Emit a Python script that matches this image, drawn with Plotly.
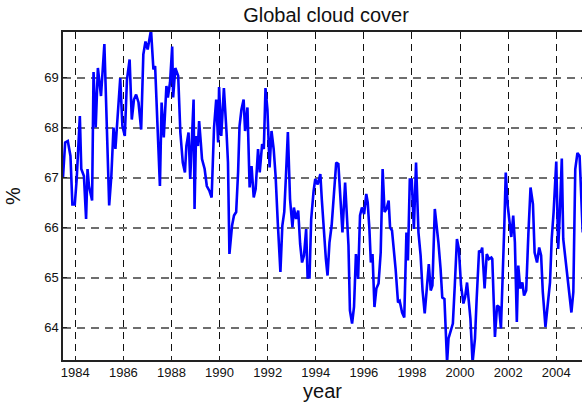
import plotly.graph_objects as go

# Monthly-ish global mean cloud amount (%), decimal year vs value
year = [
    1983.49, 1983.58, 1983.69, 1983.80, 1983.88, 1983.98, 1984.06, 1984.12, 1984.19, 1984.25,
    1984.36, 1984.45, 1984.51, 1984.57, 1984.70, 1984.76, 1984.85, 1984.94, 1985.07, 1985.21,
    1985.30, 1985.41, 1985.50, 1985.59, 1985.67, 1985.78, 1985.87, 1985.96, 1986.06, 1986.15,
    1986.26, 1986.35, 1986.44, 1986.53, 1986.63, 1986.74, 1986.83, 1986.92, 1987.01, 1987.15,
    1987.25, 1987.32, 1987.52, 1987.59, 1987.68, 1987.79, 1987.85, 1987.94, 1988.03, 1988.07,
    1988.16, 1988.28, 1988.37, 1988.47, 1988.56, 1988.62, 1988.71, 1988.78, 1988.84, 1988.92,
    1988.96, 1989.02, 1989.10, 1989.15, 1989.22, 1989.27, 1989.38, 1989.47, 1989.58, 1989.67,
    1989.77, 1989.86, 1989.94, 1989.98, 1990.07, 1990.18, 1990.29, 1990.35, 1990.41, 1990.52,
    1990.60, 1990.69, 1990.77, 1990.83, 1990.91, 1991.00, 1991.06, 1991.16, 1991.25, 1991.33,
    1991.42, 1991.50, 1991.60, 1991.67, 1991.77, 1991.84, 1991.91, 1991.99, 1992.08, 1992.16,
    1992.25, 1992.33, 1992.42, 1992.53, 1992.61, 1992.69, 1992.76, 1992.84, 1992.93, 1993.03,
    1993.09, 1993.18, 1993.27, 1993.35, 1993.43, 1993.51, 1993.60, 1993.66, 1993.74, 1993.81,
    1993.91, 1993.98, 1994.08, 1994.19, 1994.25, 1994.34, 1994.42, 1994.49, 1994.57, 1994.66,
    1994.74, 1994.85, 1994.94, 1995.02, 1995.11, 1995.22, 1995.30, 1995.36, 1995.42, 1995.51,
    1995.59, 1995.67, 1995.76, 1995.84, 1995.92, 1996.01, 1996.10, 1996.16, 1996.23, 1996.29,
    1996.36, 1996.44, 1996.52, 1996.61, 1996.70, 1996.78, 1996.86, 1996.94, 1997.03, 1997.09,
    1997.17, 1997.25, 1997.32, 1997.42, 1997.49, 1997.59, 1997.68, 1997.77, 1997.83, 1997.91,
    1997.99, 1998.08, 1998.17, 1998.27, 1998.36, 1998.44, 1998.53, 1998.61, 1998.70, 1998.78,
    1998.85, 1998.95, 1999.02, 1999.10, 1999.19, 1999.26, 1999.35, 1999.46, 1999.52, 1999.61,
    1999.70, 1999.78, 1999.87, 1999.95, 2000.04, 2000.14, 2000.21, 2000.29, 2000.37, 2000.43,
    2000.52, 2000.62, 2000.69, 2000.79, 2000.86, 2000.92, 2001.02, 2001.11, 2001.20, 2001.30,
    2001.34, 2001.45, 2001.54, 2001.62, 2001.70, 2001.76, 2001.84, 2001.90, 2001.98, 2002.05,
    2002.13, 2002.21, 2002.28, 2002.36, 2002.42, 2002.50, 2002.59, 2002.66, 2002.75, 2002.84,
    2002.93, 2003.03, 2003.10, 2003.20, 2003.29, 2003.37, 2003.44, 2003.55, 2003.65, 2003.74,
    2003.81, 2003.89, 2004.00, 2004.08, 2004.15, 2004.23, 2004.29, 2004.39, 2004.48, 2004.57,
    2004.63, 2004.71, 2004.79, 2004.88, 2004.97, 2005.10,
]

cloud_cover = [
    67.00, 67.70, 67.73, 67.43, 66.46, 66.46, 66.97, 67.70, 68.23, 67.17,
    67.03, 66.17, 67.17, 66.83, 66.54, 69.11, 68.00, 69.19, 68.63, 69.67,
    68.03, 66.44, 67.03, 68.00, 67.57, 68.36, 68.99, 68.03, 67.83, 68.96,
    69.36, 68.16, 68.56, 68.66, 68.50, 67.96, 69.46, 69.72, 69.56, 69.95,
    69.16, 69.23, 66.83, 68.50, 67.80, 68.83, 68.60, 68.90, 69.62, 68.60,
    69.19, 69.03, 67.90, 67.30, 67.10, 67.63, 67.90, 66.97, 67.63, 68.56,
    66.37, 67.83, 67.63, 68.13, 67.70, 67.37, 67.17, 66.83, 66.73, 66.60,
    68.00, 68.56, 67.70, 68.81, 67.83, 68.79, 67.90, 67.30, 65.47, 66.04,
    66.24, 66.31, 67.10, 68.03, 68.36, 68.56, 67.93, 68.40, 66.80, 67.23,
    66.60, 66.77, 67.57, 67.10, 67.67, 67.57, 68.79, 68.36, 67.20, 67.93,
    67.57, 67.03, 66.10, 65.11, 66.04, 66.31, 67.03, 67.91, 66.57, 66.00,
    66.40, 66.17, 66.34, 65.67, 65.30, 65.44, 65.97, 65.00, 65.00, 66.17,
    66.73, 66.97, 66.86, 67.07, 66.57, 65.90, 65.37, 65.04, 65.70, 66.04,
    66.50, 67.30, 67.27, 66.57, 65.90, 66.90, 66.17, 65.64, 64.34, 64.08,
    64.41, 65.47, 64.97, 66.24, 66.40, 66.27, 66.67, 66.50, 65.97, 65.30,
    65.47, 64.41, 64.78, 64.88, 65.50, 67.17, 66.31, 66.37, 66.54, 66.00,
    65.94, 65.57, 65.17, 64.50, 64.53, 64.30, 64.20, 65.90, 65.34, 66.96,
    66.96, 65.97, 67.30, 65.90, 65.44, 64.74, 64.28, 64.74, 65.27, 64.74,
    64.84, 66.37, 66.10, 65.70, 65.17, 64.60, 64.57, 63.30, 63.78, 63.91,
    64.08, 64.84, 65.77, 65.57, 64.84, 64.48, 64.61, 64.90, 64.50, 64.18,
    63.30, 63.78, 64.57, 65.54, 65.50, 65.60, 64.78, 65.47, 65.37, 65.40,
    65.37, 63.81, 64.44, 64.41, 63.98, 65.10, 66.04, 67.10, 66.44, 66.14,
    65.81, 66.24, 65.70, 64.11, 65.24, 64.78, 64.90, 64.64, 64.74, 65.87,
    66.80, 66.47, 65.50, 65.30, 65.60, 65.44, 64.71, 64.01, 64.50, 64.90,
    65.77, 66.31, 67.32, 65.57, 66.31, 67.38, 65.77, 65.37, 64.90, 64.64,
    64.30, 64.71, 67.17, 67.49, 67.43, 65.90,
]

x_ticks = list(range(1984, 2005, 2))
y_ticks = [64, 65, 66, 67, 68, 69]

FONT = "Liberation Sans, Arial, sans-serif"

fig = go.Figure(
    go.Scatter(
        x=year,
        y=cloud_cover,
        mode="lines",
        line=dict(color="#0000ff", width=2.6),
        showlegend=False,
    )
)

fig.update_layout(
    width=582,
    height=403,
    margin=dict(l=63, r=0, t=32, b=43),
    paper_bgcolor="white",
    plot_bgcolor="white",
    font=dict(family=FONT, color="#111111"),
    title=dict(
        text="Global cloud cover",
        x=326 / 582,
        xanchor="center",
        y=1 - 15 / 403,
        yanchor="middle",
        font=dict(size=20, family=FONT, color="#111111"),
    ),
)

fig.update_xaxes(
    range=[1983.49, 2005.07],
    tickmode="array",
    tickvals=x_ticks,
    ticktext=[str(v) for v in x_ticks],
    tickfont=dict(size=13, family=FONT, color="#111111"),
    ticks="inside",
    ticklen=4,
    tickcolor="#222222",
    showline=True,
    linecolor="#222222",
    linewidth=1.5,
    mirror=True,
    showgrid=True,
    gridcolor="#111111",
    gridwidth=1.3,
    griddash="7px,5px",
    zeroline=False,
    title=dict(text="year", font=dict(size=20, family=FONT, color="#111111"), standoff=3),
)

fig.update_yaxes(
    range=[63.35, 69.91],
    tickmode="array",
    tickvals=y_ticks,
    ticktext=[str(v) for v in y_ticks],
    tickfont=dict(size=13, family=FONT, color="#111111"),
    ticks="inside",
    ticklen=4,
    tickcolor="#222222",
    ticklabelstandoff=0,
    showline=True,
    linecolor="#222222",
    linewidth=1.5,
    mirror=False,
    showgrid=True,
    gridcolor="#6e6e6e",
    gridwidth=1.8,
    griddash="8px,6px",
    zeroline=False,
    title=dict(text="%", font=dict(size=20, family=FONT, color="#111111"), standoff=18),
)

fig.write_html("out.html")
